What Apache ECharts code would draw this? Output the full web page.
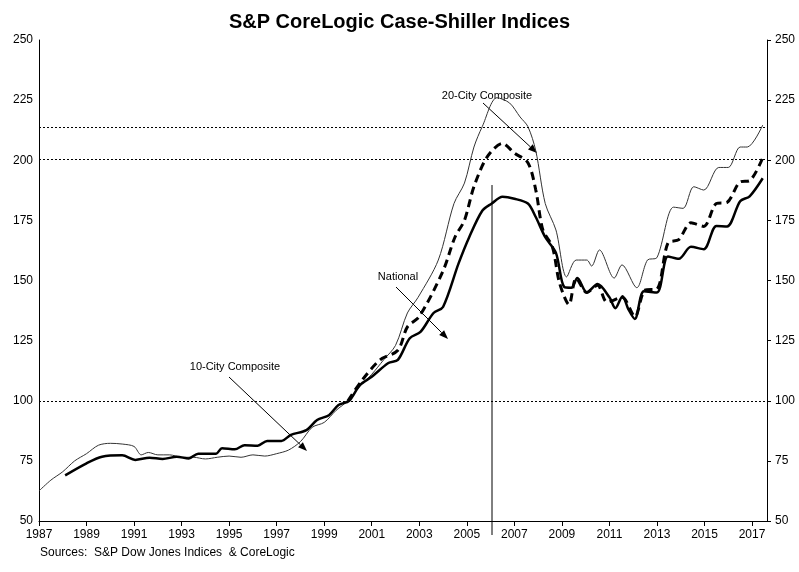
<!DOCTYPE html>
<html>
<head>
<meta charset="utf-8">
<script src="https://cdn.jsdelivr.net/npm/echarts@6/dist/echarts.min.js"></script>
<style>body{margin:0;background:#fff}#main{width:799px;height:572px}</style>
</head>
<body>
<div id="main"></div>
<script>
// [year, index]
var tenCity = [[1987.0,62.5],[1987.5,67],[1988.0,70.5],[1988.5,75],[1989.0,78],[1989.5,81.5],[1990.0,82.3],[1990.5,82],[1991.0,81],[1991.3,77.5],[1991.6,78.5],[1992.0,77.5],[1992.5,77.5],[1993.0,76.5],[1993.5,76.5],[1994.0,75.8],[1994.5,76.5],[1995.0,77],[1995.5,76.5],[1996.0,77.5],[1996.5,77],[1997.0,78],[1997.5,79.5],[1998.0,83],[1998.5,89],[1999.0,91],[1999.5,96],[2000.0,100],[2000.5,106],[2001.0,111],[2001.5,117],[2002.0,123],[2002.5,136.5],[2002.95,143],[2003.8,158.5],[2004.46,182],[2004.9,190.5],[2005.3,205.5],[2005.65,214],[2006.27,226],[2006.8,223.8],[2007.24,218],[2007.57,214],[2007.9,204],[2008.3,182],[2008.75,171],[2009.2,151.5],[2009.6,158.5],[2010.05,158.5],[2010.25,156],[2010.58,162.7],[2011.2,151],[2011.53,156.5],[2012.15,147],[2012.6,158.5],[2013.0,159.5],[2013.7,180.5],[2014.1,180],[2014.55,189],[2014.97,187.6],[2015.6,197],[2016.0,197],[2016.5,205.5],[2016.8,205.5],[2017.45,214.6]];
var twentyCity = [[2000.0,100],[2000.6,108.6],[2001.35,117],[2002.1,121],[2002.5,130.7],[2003.0,135],[2004.0,154],[2004.5,168],[2004.9,175],[2005.3,189],[2005.85,201.3],[2006.5,207],[2007.0,203],[2007.57,199],[2007.9,187.7],[2008.2,171],[2008.6,164],[2008.9,149],[2009.3,140],[2009.6,151],[2010.05,145],[2010.5,148],[2010.9,141],[2011.53,143],[2012.07,135],[2012.5,146],[2013.0,146.5],[2013.46,165.5],[2013.92,167],[2014.43,174],[2014.97,172.5],[2015.5,182],[2015.95,182.5],[2016.5,191],[2016.9,191.5],[2017.45,201]];
var national = [[1988.1,69],[1989.0,74],[1989.65,76.7],[1990.5,77.3],[1991.05,75.4],[1991.65,76.3],[1992.2,75.8],[1992.8,76.7],[1993.3,76],[1993.7,78],[1994.45,78],[1994.7,80.3],[1995.24,79.8],[1995.65,81.5],[1996.2,81.3],[1996.6,83.3],[1997.2,83.3],[1997.6,85.8],[1998.25,87.8],[1998.7,92],[1999.2,94],[1999.6,98.2],[2000.05,100],[2000.5,106.5],[2001.0,110],[2001.7,115.7],[2002.1,117],[2002.6,126],[2003.05,128.6],[2003.6,136.5],[2004.0,139],[2004.65,157],[2005.1,168],[2005.65,179],[2006.05,182],[2006.5,184.8],[2007.0,184],[2007.57,182],[2007.9,176.4],[2008.3,168],[2008.75,161.5],[2009.1,147.3],[2009.4,147],[2009.65,151],[2010.05,145],[2010.5,148.5],[2011.0,143],[2011.25,138.5],[2011.55,143.5],[2011.8,138],[2012.07,134],[2012.45,145.5],[2013.0,145],[2013.46,160],[2013.92,159],[2014.43,164],[2014.97,163],[2015.5,172.7],[2015.95,172.5],[2016.5,183],[2016.9,185],[2017.45,192.5]];
var refLevels = [100, 200.3, 213.8];
var peakYear = 2006.06;

var myChart = echarts.init(document.getElementById('main'));
var font = 'Liberation Sans, Arial, sans-serif';
var yAx = function (pos) {
    return {
        type: 'value', position: pos, min: 50, max: 250, interval: 25,
        axisLine: { show: true, lineStyle: { color: '#000', width: 1 } },
        axisTick: { show: pos === 'right', length: 4, lineStyle: { color: '#000' } },
        axisLabel: { color: '#000', fontSize: 12, fontFamily: font, margin: pos === 'right' ? 8 : 6 },
        splitLine: { show: false }
    };
};
var option = {
    animation: false,
    title: { text: 'S&P CoreLogic Case-Shiller Indices', left: 'center', top: 7,
        textStyle: { fontSize: 20, fontWeight: 'bold', color: '#000', fontFamily: font } },
    grid: { left: 39, right: 32, top: 40, bottom: 51 },
    xAxis: {
        type: 'value', min: 1987, max: 2017.63, interval: 2,
        axisLine: { lineStyle: { color: '#000' } },
        axisTick: { length: 5, lineStyle: { color: '#000' } },
        axisLabel: { color: '#000', fontSize: 12, fontFamily: font, showMaxLabel: false, margin: 8,
            formatter: function (v) { return String(v); } },
        splitLine: { show: false }
    },
    yAxis: [yAx('left'), yAx('right')],
    series: [
        { name: '10-City Composite', type: 'line', data: tenCity, showSymbol: false, smooth: 0.3,
          lineStyle: { color: '#333', width: 1 },
          markLine: { silent: true, symbol: 'none', label: { show: false },
              lineStyle: { color: '#000', type: [2, 2], width: 1 },
              data: refLevels.map(function (v) { return { yAxis: v }; }) } },
        { name: '20-City Composite', type: 'line', data: twentyCity, showSymbol: false, smooth: 0.3,
          lineStyle: { color: '#000', width: 3, type: [8, 5] } },
        { name: 'National', type: 'line', data: national, showSymbol: false, smooth: 0.3,
          lineStyle: { color: '#000', width: 2.5 } }
    ]
};
myChart.setOption(option);

// annotations
var px = function (x, y) { return myChart.convertToPixel({ xAxisIndex: 0, yAxisIndex: 0 }, [x, y]); };
function arrow(x1, y1, x2, y2) {
    var a = Math.atan2(y2 - y1, x2 - x1), L = 9, w = 3.5;
    var bx = x2 - L * Math.cos(a), by = y2 - L * Math.sin(a);
    return [
        { type: 'line', shape: { x1: x1, y1: y1, x2: bx, y2: by }, style: { stroke: '#000', lineWidth: 1 } },
        { type: 'polygon', shape: { points: [[x2, y2], [bx + w * Math.sin(a), by - w * Math.cos(a)], [bx - w * Math.sin(a), by + w * Math.cos(a)]] }, style: { fill: '#000' } }
    ];
}
var vTop = px(peakYear, 189.7), vBot = px(peakYear, 50);
var els = [
    { type: 'line', shape: { x1: vTop[0], y1: vTop[1], x2: vBot[0], y2: vBot[1] + 14 }, style: { stroke: '#000', lineWidth: 1 } },
    { type: 'text', x: 487, y: 96, style: { text: '20-City Composite', font: '11px ' + font, fill: '#000', align: 'center', verticalAlign: 'middle' } },
    { type: 'text', x: 398, y: 277, style: { text: 'National', font: '11px ' + font, fill: '#000', align: 'center', verticalAlign: 'middle' } },
    { type: 'text', x: 235, y: 367, style: { text: '10-City Composite', font: '11px ' + font, fill: '#000', align: 'center', verticalAlign: 'middle' } },
    { type: 'text', x: 40, y: 553, style: { text: 'Sources:  S&P Dow Jones Indices  & CoreLogic', font: '12px ' + font, fill: '#000', verticalAlign: 'middle' } }
];
els = els.concat(arrow(483, 103, 537, 153), arrow(396, 287, 448, 339), arrow(229, 377, 307, 451));
myChart.setOption({ graphic: els });
</script>
</body>
</html>
